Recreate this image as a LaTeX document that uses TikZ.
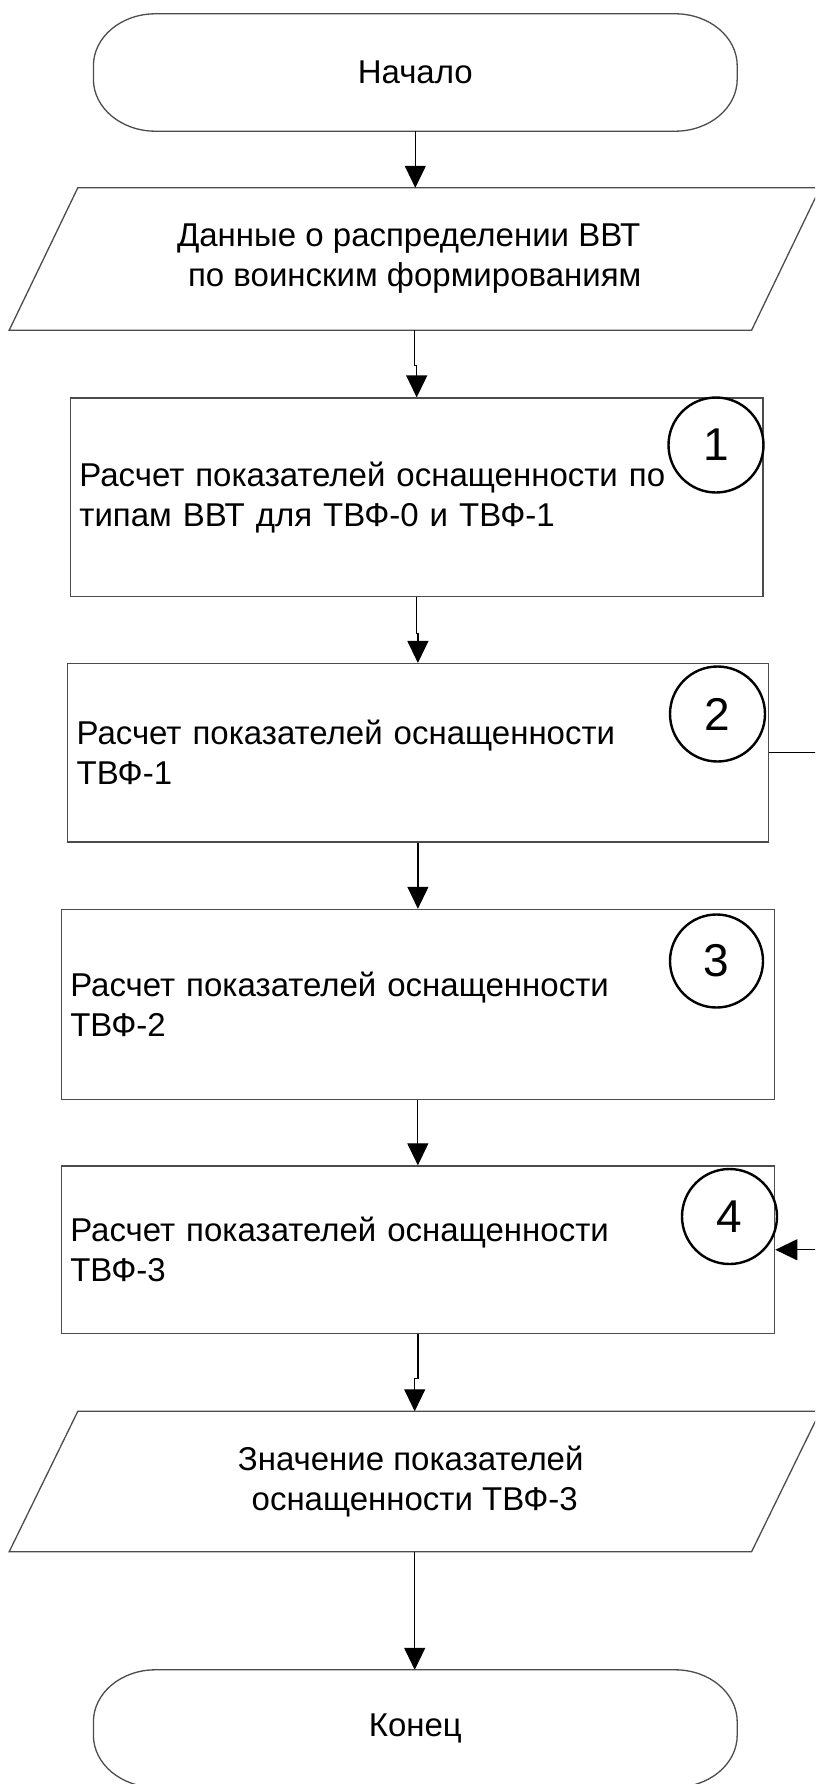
\documentclass[tikz,border=0pt]{standalone}
\usepackage{fontspec}
\setmainfont{Liberation Sans}
\usetikzlibrary{arrows.meta}

\begin{document}
\begin{tikzpicture}[x=1pt,y=-1pt,
  outline/.style={draw=black!70, line width=1.3pt},
  blank/.style={draw=none, rectangle, inner sep=0pt, align=center,
    font=\fontsize{33}{40}\selectfont},
  procbox/.style={outline, rectangle, inner xsep=9pt, inner ysep=0pt,
    align=left, font=\fontsize{33}{40}\selectfont},
  numcircle/.style={circle, draw=black, line width=2.4pt, minimum size=95pt,
    inner sep=0pt, font=\fontsize{46}{46}\selectfont},
  arr/.style={draw=black, line width=1.2pt, -{Triangle[length=22pt,width=21pt]}}]

% page frame
\useasboundingbox (0,0) rectangle (815,1784);
\fill[white] (0,0) rectangle (815,1784);
\clip (0,0) rectangle (815,1784);

% start terminal
\node[blank, minimum width=643.4pt, minimum height=117pt] (t1) at (415.3,72.5) {Начало};
\draw[outline] ([xshift=62pt]t1.north west) -- ([xshift=-62pt]t1.north east)
  arc[start angle=90, end angle=0, x radius=62pt, y radius=52pt]
  -- ([yshift=52pt]t1.south east)
  arc[start angle=0, end angle=-90, x radius=62pt, y radius=52pt]
  -- ([xshift=62pt]t1.south west)
  arc[start angle=270, end angle=180, x radius=62pt, y radius=52pt]
  -- ([yshift=-52pt]t1.north west)
  arc[start angle=180, end angle=90, x radius=62pt, y radius=52pt] -- cycle;

% input data
\node[blank, minimum width=810.6pt, minimum height=142pt] (p1) at (414.7,259)
  {\hspace*{-12pt}Данные о распределении ВВТ\\по воинским формированиям};
\draw[outline] ([xshift=68.6pt]p1.north west) -- (p1.north east)
  -- ([xshift=-68.6pt]p1.south east) -- (p1.south west) -- cycle;

% processing steps
\node[procbox, text width=674.6pt, minimum height=198.5pt] (b1) at (416.7,497.3)
  {Расчет показателей оснащенности по\\типам ВВТ для ТВФ-0 и ТВФ-1};
\node[procbox, text width=682.6pt, minimum height=178.4pt] (b2) at (417.9,752.8)
  {Расчет показателей оснащенности\\ТВФ-1};
\node[procbox, text width=695.1pt, minimum height=190.1pt] (b3) at (417.85,1004.5)
  {Расчет показателей оснащенности\\ТВФ-2};
\node[procbox, text width=695.4pt, minimum height=167.5pt] (b4) at (418,1249.75)
  {Расчет показателей оснащенности\\ТВФ-3};

% step numbers
\node[numcircle] (c1) at (716,445) {1};
\node[numcircle] (c2) at (717.5,714) {2};
\node[numcircle, minimum size=93pt] (c3) at (716.5,961) {3};
\node[numcircle] (c4) at (729.5,1216.5) {4};

% output data
\node[blank, minimum width=810.6pt, minimum height=140pt] (p2) at (414.7,1481.5)
  {\hspace*{-8pt}Значение показателей\\оснащенности ТВФ-3};
\draw[outline] ([xshift=68.6pt]p2.north west) -- (p2.north east)
  -- ([xshift=-68.6pt]p2.south east) -- (p2.south west) -- cycle;

% end terminal
\node[blank, minimum width=643.4pt, minimum height=117pt] (t2) at (415.3,1728.5) {Конец};
\draw[outline] ([xshift=62pt]t2.north west) -- ([xshift=-62pt]t2.north east)
  arc[start angle=90, end angle=0, x radius=62pt, y radius=52pt]
  -- ([yshift=52pt]t2.south east)
  arc[start angle=0, end angle=-90, x radius=62pt, y radius=52pt]
  -- ([xshift=62pt]t2.south west)
  arc[start angle=270, end angle=180, x radius=62pt, y radius=52pt]
  -- ([yshift=-52pt]t2.north west)
  arc[start angle=180, end angle=90, x radius=62pt, y radius=52pt] -- cycle;

% flow connectors
\draw[arr] (t1.south) -- (t1.south |- p1.north);
\draw[arr] (p1.south) -- ++(0,35) -| (b1.north);
\draw[arr] (b1.south) -- ++(0,36) -| (b2.north);
\draw[arr] (b2.south) -- (b2.south |- b3.north);
\draw[arr] (b3.south) -- (b3.south |- b4.north);
\draw[arr] (b4.south) -- ++(0,44) -| (p2.north);
\draw[arr] (p2.south) -- (p2.south |- t2.north);
\draw[arr] (b2.east) -- ++(60,0) |- (b4.east);
\end{tikzpicture}
\end{document}
